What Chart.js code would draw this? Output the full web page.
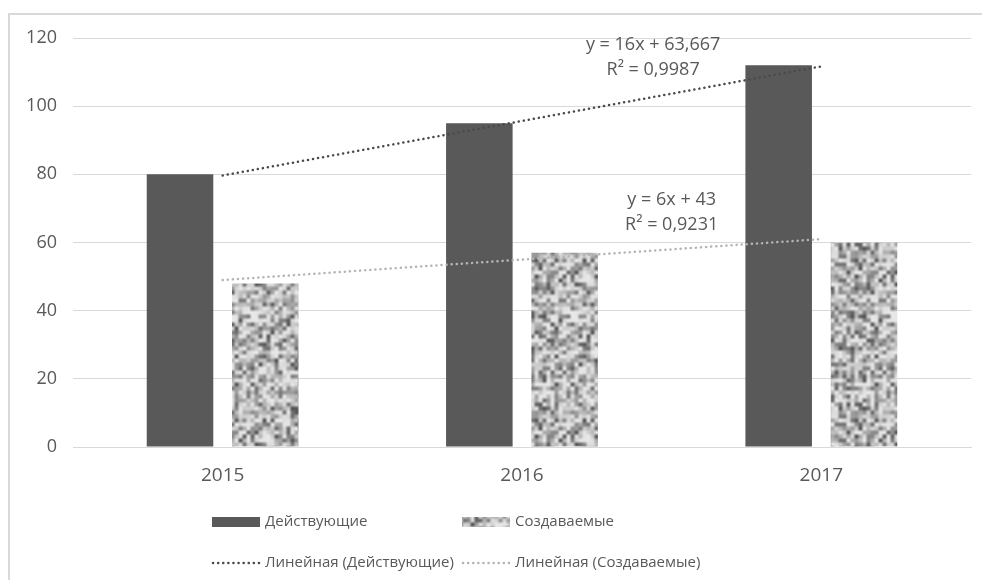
<!DOCTYPE html>
<html>
<head>
<meta charset="utf-8">
<script src="https://cdn.jsdelivr.net/npm/chart.js@4"></script>
<style>
  body { margin: 0; background: #fff; }
  #rama { position: absolute; left: 8px; top: 13px; width: 1000px; height: 600px; border: 2px solid #d9d9d9; }
  #grafica { position: absolute; left: 0; top: 0; }
</style>
</head>
<body>
<div id="rama"></div>
<canvas id="grafica" width="982" height="580"></canvas>
<script>
// DATOS DE LA GRAFICA
const anios = ['2015', '2016', '2017'];
const actuales = [80, 95, 112];
const creados = [48, 57, 60];
const tendenciaActuales = [79.667, 95.667, 111.667];
const tendenciaCreados = [49, 55, 61];
const ecuacionActuales = ['y = 16x + 63,667', 'R² = 0,9987'];
const ecuacionCreados = ['y = 6x + 43', 'R² = 0,9231'];
const ticksY = [0, 20, 40, 60, 80, 100, 120];

const colorTexto = '#595959';
const fuente = '"Open Sans", sans-serif';

// TEXTURA DE RUIDO (REPETIBLE) PARA LAS BARRAS "Создаваемые"
const crearTextura = () => {
  let semilla = 98765;
  const azar = () => {
    semilla = (semilla * 1103515245 + 12345) % 2147483648;
    return semilla / 2147483648;
  };
  const celdas = 40;
  const paso = 4;
  const lado = celdas * paso;
  const red = [];
  for (let i = 0; i < celdas * celdas; i++) {
    red.push(232 - Math.pow(azar(), 1.8) * 150);
  }
  const valor = (cx, cy) => red[((cy + celdas) % celdas) * celdas + ((cx + celdas) % celdas)];

  const lienzo = document.createElement('canvas');
  lienzo.width = lado;
  lienzo.height = lado;
  const c = lienzo.getContext('2d');
  const img = c.createImageData(lado, lado);
  for (let y = 0; y < lado; y++) {
    for (let x = 0; x < lado; x++) {
      const gx = x / paso;
      const gy = y / paso;
      const x0 = Math.floor(gx);
      const y0 = Math.floor(gy);
      const fx = gx - x0;
      const fy = gy - y0;
      const sx = fx * fx * (3 - 2 * fx);
      const sy = fy * fy * (3 - 2 * fy);
      const a = valor(x0, y0) * (1 - sx) + valor(x0 + 1, y0) * sx;
      const b = valor(x0, y0 + 1) * (1 - sx) + valor(x0 + 1, y0 + 1) * sx;
      const v = Math.round(a * (1 - sy) + b * sy);
      const k = (y * lado + x) * 4;
      img.data[k] = v;
      img.data[k + 1] = v;
      img.data[k + 2] = v;
      img.data[k + 3] = 255;
    }
  }
  c.putImageData(img, 0, 0);
  return c.createPattern(lienzo, 'repeat');
};

const textura = crearTextura();

// PLUGIN QUE DIBUJA LAS ECUACIONES DE TENDENCIA
const pluginEcuaciones = {
  id: 'ecuaciones',
  afterDatasetsDraw(chart) {
    const { ctx, scales: { x, y } } = chart;
    const anclas = [
      { lineas: ecuacionActuales, x: 1.438, y: [118, 110.6] },
      { lineas: ecuacionCreados, x: 1.5, y: [72.5, 65.1] },
    ];
    ctx.save();
    ctx.font = `18px ${fuente}`;
    ctx.fillStyle = colorTexto;
    ctx.textAlign = 'center';
    ctx.textBaseline = 'middle';
    anclas.forEach((a) => {
      a.lineas.forEach((texto, i) => {
        ctx.fillText(texto, x.getPixelForValue(a.x), y.getPixelForValue(a.y[i]));
      });
    });
    ctx.restore();
  }
};

// PLUGIN QUE DIBUJA LA LEYENDA EN DOS FILAS
const pluginLeyenda = {
  id: 'leyendaDosFilas',
  afterDraw(chart) {
    const { ctx } = chart;
    const ds = chart.data.datasets;
    const items = [
      { d: ds[2], col: 0, fila: 0, tipo: 'caja' },
      { d: ds[3], col: 1, fila: 0, tipo: 'caja' },
      { d: ds[0], col: 0, fila: 1, tipo: 'linea' },
      { d: ds[1], col: 1, fila: 1, tipo: 'linea' },
    ];
    const columnas = [212, 462];
    const filas = [522, 563];
    ctx.save();
    ctx.font = `15px ${fuente}`;
    ctx.textBaseline = 'middle';
    items.forEach((it) => {
      const x0 = columnas[it.col];
      const yc = filas[it.fila];
      if (it.tipo === 'caja') {
        ctx.fillStyle = it.d.backgroundColor;
        ctx.fillRect(x0, yc - 5, 48, 10);
      } else {
        ctx.strokeStyle = it.d.borderColor;
        ctx.lineWidth = it.d.borderWidth;
        ctx.lineCap = 'round';
        ctx.setLineDash(it.d.borderDash);
        ctx.beginPath();
        ctx.moveTo(x0 + 1, yc);
        ctx.lineTo(x0 + 47, yc);
        ctx.stroke();
        ctx.setLineDash([]);
      }
      ctx.fillStyle = colorTexto;
      ctx.fillText(it.d.label, x0 + 53, yc);
    });
    ctx.restore();
  }
};

const config = {
  data: {
    labels: anios,
    datasets: [
      {
        type: 'line',
        label: 'Линейная (Действующие)',
        data: tendenciaActuales,
        borderColor: '#4a4a4a',
        borderWidth: 2.5,
        borderDash: [0.1, 5],
        borderCapStyle: 'round',
        pointRadius: 0,
        fill: false,
        order: 0,
      },
      {
        type: 'line',
        label: 'Линейная (Создаваемые)',
        data: tendenciaCreados,
        borderColor: '#b4b4b4',
        borderWidth: 2.5,
        borderDash: [0.1, 5],
        borderCapStyle: 'round',
        pointRadius: 0,
        fill: false,
        order: 0,
      },
      {
        type: 'bar',
        label: 'Действующие',
        data: actuales,
        backgroundColor: '#595959',
        categoryPercentage: 0.57,
        barPercentage: 0.78,
        order: 1,
      },
      {
        type: 'bar',
        label: 'Создаваемые',
        data: creados,
        backgroundColor: textura,
        categoryPercentage: 0.57,
        barPercentage: 0.78,
        order: 1,
      },
    ]
  },
  options: {
    responsive: false,
    animation: false,
    devicePixelRatio: 1,
    layout: { padding: { left: 0, top: 38, right: 11, bottom: 93 } },
    plugins: {
      legend: { display: false },
      tooltip: { enabled: false },
    },
    scales: {
      x: {
        offset: true,
        grid: { display: false },
        border: { color: '#d9d9d9', width: 1 },
        ticks: { color: colorTexto, font: { family: fuente, size: 19 }, padding: 9 },
        afterFit: (escala) => { escala.height = 40; },
      },
      y: {
        min: 0,
        max: 120,
        afterBuildTicks: (escala) => { escala.ticks = ticksY.map((v) => ({ value: v })); },
        grid: { color: '#d9d9d9', lineWidth: 1, drawTicks: false },
        border: { display: false },
        ticks: { color: colorTexto, font: { family: fuente, size: 18 }, padding: 16 },
        afterFit: (escala) => { escala.width = 73; },
      }
    }
  },
  plugins: [pluginEcuaciones, pluginLeyenda]
};

new Chart(document.getElementById('grafica'), config);
</script>
</body>
</html>
